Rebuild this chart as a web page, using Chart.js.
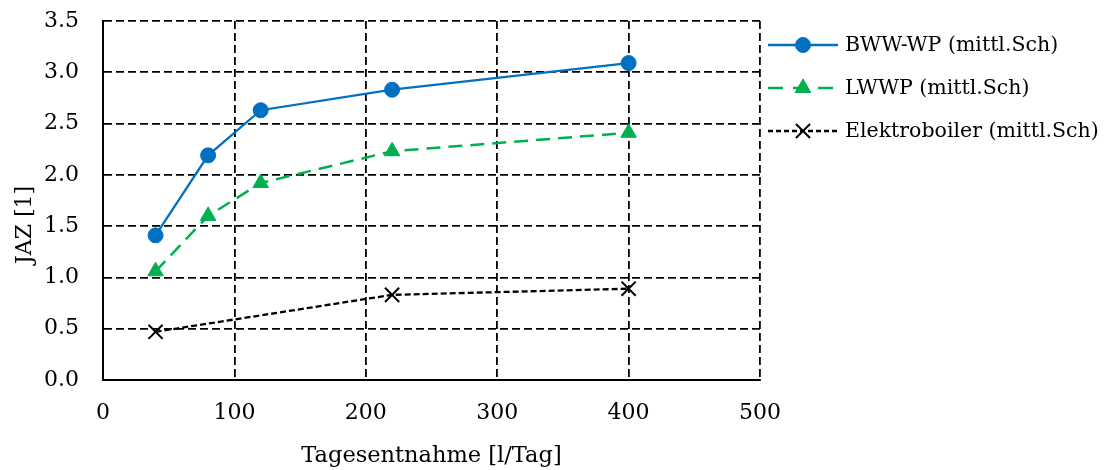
<!DOCTYPE html>
<html>
<head>
<meta charset="utf-8">
<script src="https://cdn.jsdelivr.net/npm/chart.js@4/dist/chart.umd.min.js"></script>
<style>
  html, body { margin: 0; padding: 0; background: #fff; }
  #wrap { width: 1105px; height: 470px; }
</style>
</head>
<body>
<div id="wrap"><canvas id="myChart" width="1105" height="470"></canvas></div>
<script>
// data
var bwwX = [40, 80, 120, 220, 400];
var bwwY = [1.41, 2.19, 2.63, 2.83, 3.09];
var lwwpX = [40, 80, 120, 220, 400];
var lwwpY = [1.06, 1.60, 1.92, 2.23, 2.41];
var elekX = [40, 220, 400];
var elekY = [0.47, 0.83, 0.89];
var labels = ['BWW-WP (mittl.Sch)', 'LWWP (mittl.Sch)', 'Elektroboiler (mittl.Sch)'];
var yTitle = 'JAZ [1]';

var FONT = "'DejaVu Serif', serif";

function pts(xs, ys) {
    return xs.map((x, i) => ({x: x, y: ys[i]}));
}

//legend drawn to the right of the plot, line + marker like the original
//y title drawn here too since the original sits below the axis middle
var sideLegend = {
    id: 'sideLegend',
    afterDraw(chart) {
        var ctx = chart.ctx;
        var x0 = 768, x1 = 838, y0 = 45, step = 43;
        chart.data.datasets.forEach((ds, i) => {
            var y = y0 + i * step;
            ctx.save();
            ctx.strokeStyle = ds.borderColor;
            ctx.lineWidth = ds.borderWidth;
            ctx.setLineDash(ds.legendDash || []);
            ctx.beginPath();
            ctx.moveTo(x0, y);
            ctx.lineTo(x1, y);
            ctx.stroke();
            ctx.setLineDash([]);
            ctx.fillStyle = ds.pointBackgroundColor;
            ctx.strokeStyle = ds.pointBorderColor;
            ctx.lineWidth = ds.pointBorderWidth;
            Chart.helpers.drawPoint(ctx, {
                pointStyle: ds.pointStyle,
                radius: ds.pointRadius,
                borderWidth: ds.pointBorderWidth,
                rotation: 0
            }, (x0 + x1) / 2, y);
            ctx.restore();
            ctx.save();
            ctx.fillStyle = '#000';
            ctx.font = '20.5px ' + FONT;
            ctx.textBaseline = 'middle';
            ctx.fillText(labels[i], 845, y + 1);
            ctx.restore();
        });
        ctx.save();
        ctx.translate(25, 225);
        ctx.rotate(-Math.PI / 2);
        ctx.fillStyle = '#000';
        ctx.font = '22px ' + FONT;
        ctx.textAlign = 'center';
        ctx.textBaseline = 'middle';
        ctx.fillText(yTitle, 0, 0);
        ctx.restore();
    }
};

var ctx = document.getElementById('myChart').getContext('2d');
var myChart = new Chart(ctx, {
    type: 'scatter',
    data: {
        datasets: [{
            label: labels[0],
            data: pts(bwwX, bwwY),
            showLine: true,
            borderColor: '#0070C0',
            backgroundColor: '#0070C0',
            pointBackgroundColor: '#0070C0',
            pointBorderColor: '#0070C0',
            borderWidth: 2.3,
            pointStyle: 'circle',
            pointRadius: 7.5,
            pointBorderWidth: 1
        }, {
            label: labels[1],
            data: pts(lwwpX, lwwpY),
            showLine: true,
            borderColor: '#00B050',
            backgroundColor: '#00B050',
            pointBackgroundColor: '#00B050',
            pointBorderColor: '#00B050',
            borderWidth: 2.5,
            borderDash: [14, 8],
            legendDash: [15, 10],
            pointStyle: 'triangle',
            pointRadius: 9,
            pointBorderWidth: 1
        }, {
            label: labels[2],
            data: pts(elekX, elekY),
            showLine: true,
            borderColor: '#000',
            backgroundColor: '#000',
            pointBackgroundColor: '#000',
            pointBorderColor: '#000',
            borderWidth: 2.3,
            borderDash: [6, 3],
            legendDash: [5, 3],
            pointStyle: 'crossRot',
            pointRadius: 10,
            pointBorderWidth: 2
        }]
    },
    options: {
        responsive: false,
        animation: false,
        layout: { padding: { left: 9, right: 345, top: 21, bottom: 0 } },
        plugins: {
            legend: { display: false },
            tooltip: { enabled: false }
        },
        scales: {
            x: {
                type: 'linear',
                min: 0,
                max: 500,
                afterFit: (s) => { s.height = 90; s.paddingLeft = 0; s.paddingRight = 0; },
                ticks: { stepSize: 100, color: '#000', padding: 20, font: { family: FONT, size: 22 } },
                grid: { color: '#000', lineWidth: 1.8, drawTicks: false },
                border: { display: true, color: '#000', width: 2, dash: [8, 4] },
                title: { display: true, text: 'Tagesentnahme [l/Tag]', color: '#000', padding: 0, font: { family: FONT, size: 22.5 } }
            },
            y: {
                min: 0,
                max: 3.5,
                afterFit: (s) => { s.width = 94; s.paddingTop = 0; s.paddingBottom = 0; },
                ticks: { stepSize: 0.5, color: '#000', padding: 24, font: { family: FONT, size: 22 },
                    callback: (v) => v.toFixed(1) },
                grid: { color: '#000', lineWidth: 1.8, drawTicks: false },
                border: { display: true, color: '#000', width: 2, dash: [8, 4] },
                title: { display: false }
            }
        }
    },
    plugins: [sideLegend]
});
</script>
</body>
</html>
